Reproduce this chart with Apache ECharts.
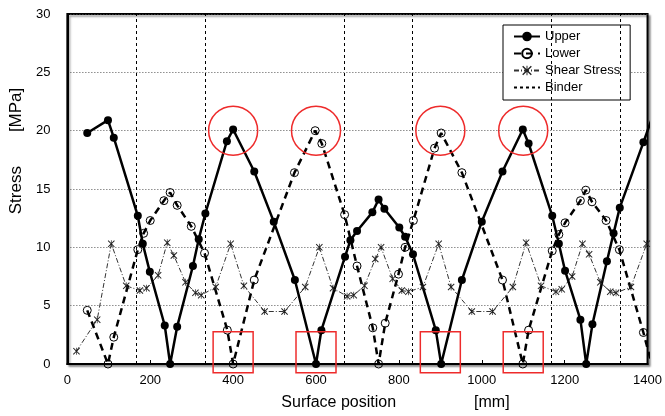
<!DOCTYPE html>
<html>
<head>
<meta charset="utf-8">
<script src="https://cdn.jsdelivr.net/npm/echarts@6/dist/echarts.min.js"></script>
<style>
  html, body { margin: 0; padding: 0; background: #fff; }
  #main { width: 665px; height: 416px; }
</style>
</head>
<body>
<div id="main"></div>
<script>
// 位置 [mm] 与 应力 [MPa]
var upperX = [48, 98, 112, 170, 182, 199, 235, 248, 265, 303, 317, 333, 385, 400, 451, 498, 549, 600, 613, 670, 683, 699, 736, 751, 765, 801, 815, 834, 889, 902, 952, 1000, 1050, 1099, 1113, 1170, 1186, 1201, 1238, 1252, 1267, 1302, 1318, 1333, 1390, 1420];
var upperY = [19.8, 20.9, 19.4, 12.7, 10.3, 7.9, 3.3, 0, 3.2, 8.4, 10.7, 12.9, 19.1, 20.1, 16.5, 12.2, 7.2, 0, 2.9, 9.2, 10.6, 11.4, 13.0, 14.1, 13.3, 11.7, 10.9, 9.4, 2.9, 0, 7.2, 12.2, 16.5, 20.1, 18.9, 12.7, 10.3, 8.0, 3.8, 0, 3.4, 8.8, 11.2, 13.4, 19.0, 22.0];

var lowerX = [48, 98, 112, 170, 184, 200, 233, 248, 265, 299, 331, 386, 400, 451, 548, 598, 614, 669, 699, 737, 751, 767, 799, 815, 835, 886, 902, 952, 1050, 1099, 1113, 1170, 1186, 1201, 1238, 1251, 1266, 1300, 1332, 1390, 1410];
var lowerY = [4.6, 0, 2.3, 9.8, 11.2, 12.3, 14.0, 14.7, 13.6, 11.8, 9.5, 2.9, 0, 7.2, 16.4, 20.0, 18.9, 12.8, 8.4, 3.1, 0, 3.5, 7.7, 10.0, 12.3, 18.5, 19.8, 16.4, 7.2, 0, 2.9, 9.7, 11.1, 12.1, 14.0, 14.9, 13.9, 12.3, 9.8, 2.7, 0];

var shearX = [22, 72, 106, 142, 175, 191, 219, 241, 257, 285, 309, 323, 358, 394, 426, 476, 524, 574, 608, 641, 675, 691, 717, 743, 757, 785, 807, 823, 858, 896, 926, 976, 1026, 1075, 1107, 1143, 1179, 1193, 1218, 1243, 1259, 1286, 1310, 1324, 1360, 1398];
var shearY = [1.1, 3.8, 10.3, 6.7, 6.3, 6.5, 7.6, 10.4, 9.3, 7.0, 6.1, 5.9, 6.6, 10.3, 6.7, 4.5, 4.5, 6.6, 10.0, 6.5, 5.8, 5.9, 6.7, 9.0, 10.0, 7.3, 6.3, 6.2, 6.6, 10.3, 6.6, 4.5, 4.5, 6.6, 10.4, 6.7, 6.2, 6.4, 7.5, 10.3, 9.4, 7.0, 6.2, 6.1, 6.6, 10.3];

var binderX = [167, 333, 667, 833, 1167, 1333];

// 红色标注
var peakMarks = [[400, 20], [600, 20], [900, 20], [1100, 20]];
var zeroMarks = [[400, 1], [600, 1], [900, 1], [1100, 1]];

var xTicks = { min: 0, max: 1400, step: 200 };
var yTicks = { min: 0, max: 30, step: 5 };

function pairs(xs, ys) {
    var out = [];
    for (var i = 0; i < xs.length; i++) {
        out.push([xs[i], ys[i]]);
    }
    return out;
}

var FONT = 'Liberation Sans';
var starPath = 'path://M0,1L1,0L5,4L9,0L10,1L6,5L10,9L9,10L5,6L1,10L0,9L4,5ZM4.5,0L5.5,0L5.5,10L4.5,10Z';

var myChart = echarts.init(document.getElementById('main'), null, { renderer: 'canvas' });

var option = {
    backgroundColor: '#fff',
    animation: false,
    textStyle: { fontFamily: FONT, color: '#000' },
    grid: {
        left: 64, right: 15, top: 14, bottom: 50,
        show: true,
        backgroundColor: '#fff',
        borderColor: '#000',
        borderWidth: 2,
        shadowColor: 'rgba(0,0,0,0.35)',
        shadowBlur: 2,
        shadowOffsetX: 2,
        shadowOffsetY: 2
    },
    legend: {
        orient: 'vertical',
        left: 503,
        top: 25,
        padding: [5, 10, 6, 10],
        itemWidth: 26,
        itemHeight: 12,
        itemGap: 4,
        itemTextGap: 5,
        backgroundColor: '#fff',
        borderColor: '#000',
        borderWidth: 1,
        textStyle: { fontFamily: FONT, fontSize: 13, color: '#000' },
        data: ['Upper', 'Lower', 'Shear Stress', { name: 'Binder', itemStyle: { opacity: 0 } }]
    },
    xAxis: {
        type: 'value',
        min: xTicks.min,
        max: xTicks.max,
        interval: xTicks.step,
        name: '{a|Surface position}{b|[mm]}',
        nameLocation: 'middle',
        nameGap: 31,
        nameTextStyle: {
            rich: {
                a: { fontFamily: FONT, fontSize: 16, color: '#000' },
                b: { fontFamily: FONT, fontSize: 16, color: '#000', padding: [0, 0, 0, 78] }
            },
            padding: [0, 0, 0, 76]
        },
        axisLine: { show: true, lineStyle: { color: '#000', width: 2 } },
        axisTick: { show: true, inside: true, length: 4, lineStyle: { color: '#000' } },
        axisLabel: {
            fontFamily: FONT, fontSize: 13, color: '#000', margin: 10,
            formatter: function (v) { return String(v); }
        },
        splitLine: { show: false }
    },
    yAxis: {
        type: 'value',
        min: yTicks.min,
        max: yTicks.max,
        interval: yTicks.step,
        name: '{a|Stress}{b|[MPa]}',
        nameLocation: 'middle',
        nameGap: 28,
        nameTextStyle: {
            rich: {
                a: { fontFamily: FONT, fontSize: 17, color: '#000' },
                b: { fontFamily: FONT, fontSize: 17, color: '#000', padding: [0, 0, 0, 34] }
            },
            padding: [0, 0, 0, 76]
        },
        axisLine: { show: true, lineStyle: { color: '#000', width: 2 } },
        axisTick: { show: false },
        axisLabel: { fontFamily: FONT, fontSize: 13, color: '#000', margin: 17 },
        splitLine: { show: true, lineStyle: { color: '#555', width: 1, type: [1, 2] } }
    },
    series: [
        {
            name: 'Binder',
            type: 'line',
            data: [],
            symbol: 'none',
            lineStyle: { color: '#000', width: 1, type: [3, 3] },
            itemStyle: { color: '#000' },
            markLine: {
                silent: true,
                symbol: 'none',
                label: { show: false },
                lineStyle: { color: '#000', width: 1, type: [3, 3] },
                data: binderX.map(function (v) { return { xAxis: v }; })
            },
            markPoint: {
                silent: true,
                label: { show: false },
                data: peakMarks.map(function (p) {
                    return {
                        coord: p, symbol: 'circle', symbolSize: 49,
                        itemStyle: { color: 'rgba(0,0,0,0)', borderColor: '#ee2b2b', borderWidth: 1.5 }
                    };
                }).concat(zeroMarks.map(function (p) {
                    return {
                        coord: p, symbol: 'rect', symbolSize: [40, 41],
                        itemStyle: { color: 'rgba(0,0,0,0)', borderColor: '#ee2b2b', borderWidth: 1.5 }
                    };
                }))
            }
        },
        {
            name: 'Shear Stress',
            type: 'line',
            data: pairs(shearX, shearY),
            symbol: starPath,
            symbolSize: 7,
            lineStyle: { color: '#333', width: 1, type: [5, 2, 1, 2] },
            itemStyle: { color: '#222' }
        },
        {
            name: 'Lower',
            type: 'line',
            data: pairs(lowerX, lowerY),
            symbol: 'circle',
            symbolSize: 8,
            lineStyle: { color: '#000', width: 2.5, type: [7, 5] },
            itemStyle: { color: 'rgba(255,255,255,0)', borderColor: '#000', borderWidth: 1 }
        },
        {
            name: 'Upper',
            type: 'line',
            data: pairs(upperX, upperY),
            symbol: 'circle',
            symbolSize: 8,
            lineStyle: { color: '#000', width: 2.5 },
            itemStyle: { color: '#000' }
        }
    ]
};

myChart.setOption(option);
</script>
</body>
</html>
